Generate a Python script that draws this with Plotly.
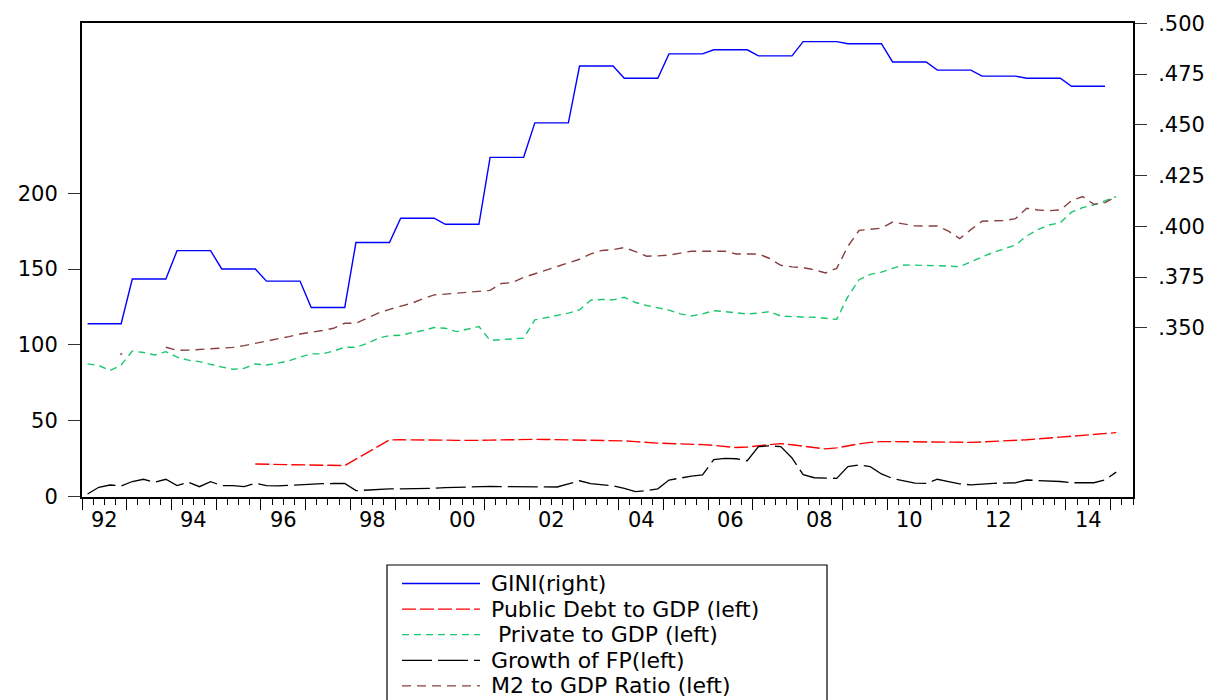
import plotly.graph_objects as go

# ---------------- data (quarterly, 1992Q1 .. 2015Q1) ----------------
quarters = [f"{y}Q{q}" for y in range(1992, 2016) for q in range(1, 5)][:93]

gini = [
    0.352, 0.352, 0.352, 0.352,   # 1992
    0.374, 0.374, 0.374, 0.374,   # 1993
    0.388, 0.388, 0.388, 0.388,   # 1994
    0.379, 0.379, 0.379, 0.379,   # 1995
    0.373, 0.373, 0.373, 0.373,   # 1996
    0.360, 0.360, 0.360, 0.360,   # 1997
    0.392, 0.392, 0.392, 0.392,   # 1998
    0.404, 0.404, 0.404, 0.404,   # 1999
    0.401, 0.401, 0.401, 0.401,   # 2000
    0.434, 0.434, 0.434, 0.434,   # 2001
    0.451, 0.451, 0.451, 0.451,   # 2002
    0.479, 0.479, 0.479, 0.479,   # 2003
    0.473, 0.473, 0.473, 0.473,   # 2004
    0.485, 0.485, 0.485, 0.485,   # 2005
    0.487, 0.487, 0.487, 0.487,   # 2006
    0.484, 0.484, 0.484, 0.484,   # 2007
    0.491, 0.491, 0.491, 0.491,   # 2008
    0.490, 0.490, 0.490, 0.490,   # 2009
    0.481, 0.481, 0.481, 0.481,   # 2010
    0.477, 0.477, 0.477, 0.477,   # 2011
    0.474, 0.474, 0.474, 0.474,   # 2012
    0.473, 0.473, 0.473, 0.473,   # 2013
    0.469, 0.469, 0.469, 0.469,   # 2014
    None,                         # 2015Q1
]

public_debt = [
    None, None, None, None,       # 1992
    None, None, None, None,       # 1993
    None, None, None, None,       # 1994
    None, None, None, 21.5,       # 1995
    21.4, 21.4, 21.3, 21.2,       # 1996
    21.0, 20.8, 20.6, 20.5,       # 1997
    24.8, 29.0, 33.2, 37.4,       # 1998
    37.5, 37.5, 37.6, 37.5,       # 1999
    37.3, 37.1, 37.0, 37.1,       # 2000
    37.3, 37.5, 37.6, 37.7,       # 2001
    37.8, 37.7, 37.6, 37.6,       # 2002
    37.5, 37.4, 37.4, 37.1,       # 2003
    36.8, 36.3, 35.7, 35.3,       # 2004
    35.1, 34.9, 34.7, 34.3,       # 2005
    33.8, 33.2, 32.4, 32.8,       # 2006
    33.5, 34.2, 35.0, 34.2,       # 2007
    33.2, 32.2, 31.5, 32.2,       # 2008
    33.6, 34.8, 35.8, 36.3,       # 2009
    36.3, 36.2, 36.1, 36.0,       # 2010
    35.8, 35.7, 35.6, 35.8,       # 2011
    36.1, 36.4, 36.7, 37.0,       # 2012
    37.5, 38.1, 38.7, 39.4,       # 2013
    40.0, 40.5, 41.0, 41.6,       # 2014
    42.2,                         # 2015Q1
]

private_credit = [
    87.5, 86.5, 83.1, 86.8,       # 1992
    96.0, 95.0, 93.4, 95.6,       # 1993
    92.0, 90.0, 89.0, 87.0,       # 1994
    85.5, 84.0, 84.6, 87.5,       # 1995
    86.8, 88.0, 89.5, 92.0,       # 1996
    94.1, 94.1, 96.0, 98.5,       # 1997
    98.5, 101.0, 104.5, 106.2,    # 1998
    106.4, 108.1, 109.5, 111.5,   # 1999
    111.0, 108.8, 110.5, 112.1,   # 2000
    103.0, 103.5, 103.8, 104.5,   # 2001
    116.5, 118.0, 119.1, 121.0,   # 2002
    123.1, 129.5, 130.0, 129.7,   # 2003
    131.4, 128.0, 126.0, 124.5,   # 2004
    123.0, 120.5, 119.1, 120.5,   # 2005
    122.6, 122.0, 121.0, 120.4,   # 2006
    121.0, 122.0, 119.0, 118.5,   # 2007
    118.4, 118.3, 117.5, 116.9,   # 2008
    131.8, 143.0, 146.5, 148.0,   # 2009
    150.5, 152.7, 152.6, 152.5,   # 2010
    152.3, 152.0, 151.6, 155.0,   # 2011
    158.0, 161.0, 163.5, 165.9,   # 2012
    171.9, 176.0, 179.1, 180.6,   # 2013
    187.5, 190.5, 192.3, 195.0,   # 2014
    197.8,                        # 2015Q1
]

growth_fp = [
    1.8, 6.2, 7.7, 7.1,           # 1992
    10.0, 11.5, 9.5, 11.5,        # 1993
    7.3, 9.5, 6.6, 9.9,           # 1994
    7.3, 7.3, 6.6, 8.8,           # 1995
    7.3, 7.1, 7.5, 8.0,           # 1996
    8.4, 8.6, 8.7, 8.8,           # 1997
    4.0, 4.5, 5.0, 5.1,           # 1998
    5.1, 5.2, 5.3, 5.6,           # 1999
    6.0, 6.3, 6.6, 6.9,           # 2000
    6.8, 6.7, 6.6, 6.5,           # 2001
    6.4, 6.3, 6.4, 8.5,           # 2002
    10.5, 8.6, 7.8, 7.1,          # 2003
    5.5, 3.3, 4.0, 5.2,           # 2004
    11.0, 12.5, 13.5, 14.3,       # 2005
    24.5, 25.3, 25.0, 23.7,       # 2006
    33.0, 33.5, 33.0, 25.5,       # 2007
    14.5, 12.5, 12.1, 12.1,       # 2008
    19.8, 20.9, 19.8, 15.0,       # 2009
    12.0, 10.3, 9.0, 8.8,         # 2010
    11.5, 10.0, 8.5, 7.8,         # 2011
    8.5, 8.8, 9.0, 9.2,           # 2012
    11.0, 10.8, 10.5, 10.0,       # 2013
    9.2, 9.2, 9.2, 11.0,          # 2014
    16.2,                         # 2015Q1
]

m2_ratio = [
    None, None, None, 94.0,       # 1992
    None, None, None, 98.5,       # 1993
    96.5, 96.6, 97.0, 97.3,       # 1994
    97.6, 98.4, 99.6, 101.0,      # 1995
    102.5, 104.0, 105.5, 107.2,   # 1996
    108.2, 109.5, 111.0, 114.3,   # 1997
    114.3, 117.5, 121.0, 123.5,   # 1998
    125.5, 127.5, 130.5, 133.0,   # 1999
    133.5, 134.0, 134.5, 135.0,   # 2000
    136.0, 140.5, 141.1, 144.5,   # 2001
    147.0, 149.5, 152.0, 154.5,   # 2002
    156.5, 160.0, 162.3, 162.8,   # 2003
    164.2, 161.5, 158.5, 158.7,   # 2004
    159.2, 160.5, 161.8, 161.8,   # 2005
    161.8, 161.8, 160.0, 159.8,   # 2006
    160.0, 157.0, 152.5, 151.5,   # 2007
    151.0, 149.5, 147.5, 150.5,   # 2008
    165.0, 175.5, 176.0, 177.0,   # 2009
    181.0, 180.0, 178.5, 178.4,   # 2010
    178.4, 175.0, 170.1, 176.0,   # 2011
    181.5, 181.8, 182.0, 183.3,   # 2012
    190.1, 189.0, 188.5, 189.0,   # 2013
    195.1, 197.8, 192.7, 193.8,   # 2014
    197.8,                        # 2015Q1
]

year_labels = ["92", "94", "96", "98", "00", "02", "04", "06", "08", "10", "12", "14"]
left_ticks = [0, 50, 100, 150, 200]
right_ticks = [0.350, 0.375, 0.400, 0.425, 0.450, 0.475, 0.500]
right_tick_text = [".350", ".375", ".400", ".425", ".450", ".475", ".500"]

# ---------------- helpers ----------------
# quarter -> middle of the quarter on a fractional-year axis
xq = [int(s[:4]) + (int(s[-1]) - 0.5) / 4 for s in quarters]
label_pos = [(1900 if int(l) > 50 else 2000) + int(l) + 0.5 for l in year_labels]

FONT = "DejaVu Sans"
TICK_SIZE = 21
OFF = 8                       # page offset of the plot div (body margin)
W, H = 1225 - OFF, 700 - OFF
# plot-area edges in page pixels
PL, PR, PT, PB = 82, 1133, 23, 497
L, R, T, B = PL - OFF, PR - OFF, PT - OFF, PB - OFF


def px_x(p):
    """page pixel x -> paper fraction"""
    return (p - PL) / (PR - PL)


def px_y(p):
    """page pixel y -> paper fraction"""
    return (PB - p) / (PB - PT)


def isolated_sizes(vals, size=3.5):
    out = []
    for i, v in enumerate(vals):
        prev_none = i == 0 or vals[i - 1] is None
        next_none = i == len(vals) - 1 or vals[i + 1] is None
        out.append(size if (v is not None and prev_none and next_none) else 0)
    return out


series = [
    dict(name="GINI(right)", y=gini, color="#0000FF", dash="solid", axis="y2", width=1.4),
    dict(name="Public Debt to GDP (left)", y=public_debt, color="#FF0000", dash="14px,4px", axis="y", width=1.4),
    dict(name="\u00a0Private to GDP (left)", y=private_credit, color="#19C86E", dash="7px,5px", axis="y", width=1.4),
    dict(name="Growth of FP(left)", y=growth_fp, color="#000000", dash="30px,6px", axis="y", width=1.3),
    dict(name="M2 to GDP Ratio (left)", y=m2_ratio, color="#884040", dash="9px,6px", axis="y", width=1.4),
]

fig = go.Figure()
for s in series:
    fig.add_trace(go.Scatter(
        x=xq, y=s["y"], name=s["name"], yaxis=s["axis"],
        mode="lines+markers",
        marker=dict(size=isolated_sizes(s["y"]), color=s["color"]),
        line=dict(color=s["color"], width=s["width"], dash=s["dash"]),
        connectgaps=False, showlegend=False,
    ))

# ---------------- x labels (centred in each labelled year) ----------------
annotations = []
for pos, lab in zip(label_pos, year_labels):
    annotations.append(dict(xref="x", yref="paper", x=pos, y=px_y(506), text=lab,
                            showarrow=False, xanchor="center", yanchor="top",
                            font=dict(family=FONT, size=TICK_SIZE, color="black")))

# ---------------- legend (boxed, below the plot) ----------------
shapes = [dict(type="rect", xref="paper", yref="paper",
               x0=px_x(387), x1=px_x(827), y0=px_y(565), y1=px_y(715),
               line=dict(color="black", width=1.2), fillcolor="white", layer="above")]
row0, gap = 583.5, 25.6
for k, s in enumerate(series):
    yy = px_y(row0 + k * gap)
    shapes.append(dict(type="line", xref="paper", yref="paper",
                       x0=px_x(402), x1=px_x(480), y0=yy, y1=yy,
                       line=dict(color=s["color"], width=1.3, dash=s["dash"])))
    annotations.append(dict(xref="paper", yref="paper", x=px_x(489), y=yy,
                            text=s["name"], showarrow=False, xanchor="left", yanchor="middle",
                            font=dict(family=FONT, size=22, color="black")))

axis_common = dict(showgrid=False, zeroline=False, automargin=False)

fig.update_layout(
    width=W, height=H,
    margin=dict(l=L, r=W - R, t=T, b=H - B, pad=0, autoexpand=False),
    paper_bgcolor="white", plot_bgcolor="white",
    font=dict(family=FONT, size=TICK_SIZE, color="black"),
    showlegend=False,
    xaxis=dict(
        range=[1992, 2015.5], tickmode="linear", tick0=1992, dtick=1,
        showticklabels=False, ticks="outside", ticklen=11, tickwidth=1.3, tickcolor="black",
        minor=dict(dtick=0.25, tick0=1992, ticks="outside", ticklen=6, tickwidth=1.1, tickcolor="black"),
        showline=True, linecolor="black", linewidth=2, mirror=True, **axis_common,
    ),
    yaxis=dict(
        range=[-0.2, 312.2], tickmode="array", tickvals=left_ticks,
        ticks="outside", ticklen=12, tickwidth=1.3, tickcolor="#333333",
        ticklabelstandoff=6,
        showline=True, linecolor="black", linewidth=2, mirror=True,
        tickfont=dict(family=FONT, size=TICK_SIZE, color="black"), **axis_common,
    ),
    yaxis2=dict(
        overlaying="y", side="right", anchor="x", range=[0.2666, 0.5002],
        tickmode="array", tickvals=right_ticks, ticktext=right_tick_text,
        ticks="outside", ticklen=12, tickwidth=1.3, tickcolor="#333333",
        ticklabelstandoff=7,
        showline=True, linecolor="black", linewidth=2,
        tickfont=dict(family=FONT, size=TICK_SIZE, color="black"), **axis_common,
    ),
    shapes=shapes,
    annotations=annotations,
)

fig.write_html("out.html")
